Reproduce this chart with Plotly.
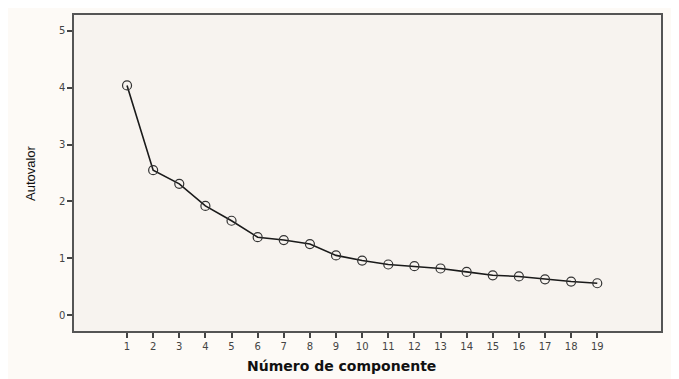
import plotly.graph_objects as go

componentes = list(range(1, 20))
autovalores = [4.04, 2.55, 2.31, 1.92, 1.66, 1.37, 1.32, 1.25, 1.05, 0.96,
               0.89, 0.86, 0.82, 0.76, 0.70, 0.68, 0.63, 0.59, 0.56]
y_ticks = [0, 1, 2, 3, 4, 5]

fig = go.Figure()
fig.add_trace(go.Scatter(
    x=componentes, y=autovalores, mode="lines+markers",
    line=dict(color="#1a1a1a", width=1.6),
    marker=dict(symbol="circle-open", size=9, color="#333333", line=dict(width=1.2)),
    showlegend=False,
))

# page body has an 8px margin; figure laid out in its own coordinates
OFF = 8
W, H = 679 - OFF, 379 - OFF
L, T = 74 - OFF, 13 - OFF
R = W - (661 - OFF)
B = H - (331 - OFF)

fig.update_layout(
    width=W, height=H,
    margin=dict(l=L, r=R, t=T, b=B),
    paper_bgcolor="#fdfaf6",
    plot_bgcolor="#f7f3ef",
    font=dict(family="DejaVu Sans", size=10, color="#333333"),
    xaxis=dict(
        range=[-1.03, 21.44], tickmode="array", tickvals=componentes,
        ticktext=[str(c) for c in componentes],
        ticks="outside", ticklen=5, tickcolor="#444", tickwidth=1.5,
        showgrid=False, zeroline=False,
        showline=True, linecolor="#555555", linewidth=1.5, mirror=True,
        tickfont=dict(size=10, color="#444444"),
    ),
    yaxis=dict(
        range=[-0.28, 5.28], tickmode="array", tickvals=y_ticks,
        ticks="outside", ticklen=5, tickcolor="#444", tickwidth=1.5,
        showgrid=False, zeroline=False,
        showline=True, linecolor="#555555", linewidth=1.5, mirror=True,
        tickfont=dict(size=10, color="#444444"),
    ),
)

pw, ph = W - L - R, H - T - B
fig.add_annotation(
    text="<b>Número de componente</b>", xref="paper", yref="paper",
    x=(341 - OFF - L) / pw, y=-(366 - OFF - (H - B)) / ph,
    showarrow=False, xanchor="center", yanchor="middle",
    font=dict(family="DejaVu Sans", size=14, color="#111111"),
)
fig.add_annotation(
    text="Autovalor", xref="paper", yref="paper",
    x=-(L - (30 - OFF)) / pw, y=(H - B - (172 - OFF)) / ph,
    showarrow=False, xanchor="center", yanchor="middle", textangle=-90,
    font=dict(family="Liberation Sans", size=13, color="#111111"),
)

fig.write_html("out.html")
